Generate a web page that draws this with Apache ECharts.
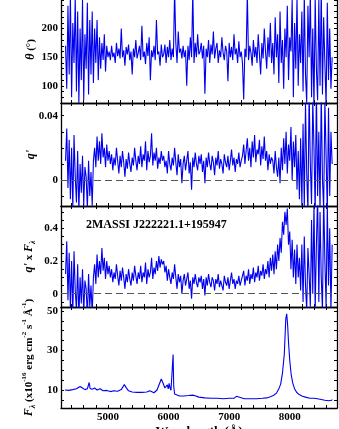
<!DOCTYPE html>
<html>
<head>
<meta charset="utf-8">
<script src="https://cdn.jsdelivr.net/npm/echarts@6/dist/echarts.min.js"></script>
<style>
  html, body { margin: 0; padding: 0; background: #fff; }
  #main { width: 339px; height: 429px; }
</style>
</head>
<body>
<div id="main"></div>
<script>
// sampling of the polarisation panels (Angstrom)
const polStart = 4300
const polStep = 20

// position angle theta (deg)
const theta = [
  170, 95, 240, 120, 260, 80, 210, 140, 255, 90, 230, 70, 200, 110, 250, 75, 190, 130, 245, 85, 215,
  120, 230, 105, 200, 140, 215, 110, 185, 130, 175, 145, 190, 125, 170, 150,
  160, 145, 170, 150, 158, 140, 175, 152, 165, 148, 200, 150, 162, 135, 168, 155, 172, 145, 160, 120, 165, 150, 180, 148, 158,
  170, 145, 205, 150, 160, 138, 175, 152, 185, 110, 162, 150, 170, 145, 215, 155, 160, 135, 172, 150,
  155, 172, 140, 168, 150, 180, 145, 165, 150, 268, 175, 140, 195, 158, 165, 148, 170, 150, 162, 100,
  170, 145, 185, 150, 265, 140, 175, 150, 190, 155,
  160, 175, 148, 170, 86, 165, 150, 180, 140, 172, 155, 195, 148, 165, 175, 140, 162, 150, 185, 158,
  145, 170, 160, 108, 175, 150, 168, 145, 190, 155, 165, 140, 178, 150, 160,
  140, 76, 165, 150, 262, 145, 170, 158, 135, 180, 150, 168, 140, 190, 155, 120, 175, 148, 200, 160, 130, 185, 150, 210, 140,
  175, 120, 220, 150, 190, 105, 230, 140, 180, 95, 200, 150, 240, 110, 185, 160, 250, 80, 210, 130, 255, 100, 190, 140, 230,
  90, 260, 120, 70, 240, 150, 265, 80, 200, 60, 255, 130, 75, 250, 100, 270, 85, 220, 140, 65, 245, 110, 200, 95, 150
]

// q'
const qPol = [
  0.012, 0.032, -0.005, 0.025, -0.012, 0.02, -0.018, 0.028, 0.002, -0.014, 0.018, -0.02, 0.01, -0.008, 0.015, -0.016, 0.008, 0.002, -0.018, 0.012, -0.01,
  0.005, -0.016, 0.012, 0.02, 0.008, 0.027, 0.012, 0.024, 0.01, 0.029, 0.014, 0.02, 0.008, 0.022, 0.012,
  0.018, 0.01, 0.016, 0.006, 0.014, 0.009, 0.02, 0.012, 0.004, 0.015, 0.008, 0.018, 0.011, 0.002, 0.013, 0.007, 0.017, 0.01, 0.005, 0.014, 0.009, 0.02, 0.012, 0.006, 0.015,
  0.01, 0.021, 0.008, 0.016, 0.012, 0.024, 0.006, 0.018, 0.011, 0.015, 0.029, 0.009, 0.017, 0.012, 0.02, 0.007, 0.014, 0.01, 0.018, 0.012,
  0.015, 0.008, 0.012, 0.004, 0.018, 0.01, 0.006, 0.014, 0.009, 0.02, 0.011, 0.003, 0.016, 0.008, 0.013, -0.002, 0.01, 0.015, 0.006, 0.012,
  0.018, 0.004, 0.011, -0.006, 0.014, 0.008, 0.017, 0.01, 0.006, 0.015,
  0.01, 0.016, 0.005, 0.012, -0.002, 0.014, 0.008, 0.017, 0.01, 0.006, 0.015, 0.011, 0.003, 0.014, 0.009, 0.018, 0.007, 0.013, 0.01, 0.004,
  0.016, 0.011, 0.008, 0.015, 0.006, 0.012, 0.019, 0.009, 0.014, 0.005, 0.013, 0.01, 0.017, 0.008, 0.012,
  0.015, 0.022, 0.01, 0.018, 0.026, 0.012, 0.02, 0.008, 0.024, 0.014, 0.028, 0.011, 0.019, 0.016, 0.025, 0.009, 0.021, 0.013, 0.027, 0.012, 0.018, 0.006, 0.016, 0.01, 0.014,
  0.012, 0.004, 0.018, 0.008, 0.002, 0.014, -0.002, 0.02, 0.006, 0.026, 0.01, 0.03, 0.004, 0.022, 0.012, 0.033, 0.0, 0.024, 0.008, 0.028, -0.006, 0.018, -0.012, 0.026, -0.016,
  0.035, -0.018, 0.048, 0.005, -0.02, 0.055, 0.01, -0.015, 0.05, 0.02, -0.02, 0.058, -0.01, 0.03, -0.02, 0.055, 0.0, -0.018, 0.05, 0.015, -0.02, 0.045, -0.01, 0.03, 0.01
]

// q' x F_lambda
const qFlux = [
  0.12, 0.32, -0.04, 0.25, -0.1, 0.2, -0.12, 0.26, 0.02, -0.1, 0.18, -0.15, 0.1, -0.06, 0.15, -0.12, 0.08, 0.03, -0.14, 0.12, -0.08,
  0.05, -0.12, 0.1, 0.18, 0.06, 0.24, 0.1, 0.2, 0.12, 0.28, 0.14, 0.22, 0.09, 0.2, 0.12,
  0.17, 0.1, 0.15, 0.07, 0.13, 0.09, 0.18, 0.11, 0.05, 0.14, 0.08, 0.16, 0.1, 0.03, 0.12, 0.07, 0.15, 0.09, 0.05, 0.13, 0.08, 0.17, 0.11, 0.06, 0.13,
  0.09, 0.17, 0.07, 0.13, 0.1, 0.19, 0.06, 0.15, 0.1, 0.13, 0.22, 0.09, 0.16, 0.12, 0.2, 0.14, 0.23, 0.16, 0.21, 0.18,
  0.2, 0.13, 0.17, 0.08, 0.15, 0.1, 0.06, 0.13, 0.09, 0.18, 0.1, 0.03, 0.12, 0.07, 0.11, 0.0, 0.08, 0.12, 0.05, 0.09,
  0.13, 0.03, 0.08, -0.03, 0.1, 0.06, 0.12, 0.07, 0.04, 0.1,
  0.07, 0.11, 0.03, 0.09, -0.01, 0.1, 0.05, 0.12, 0.07, 0.04, 0.1, 0.08, 0.02, 0.09, 0.06, 0.12, 0.04, 0.08, 0.07, 0.02,
  0.11, 0.07, 0.05, 0.1, 0.03, 0.08, 0.13, 0.06, 0.09, 0.03, 0.08, 0.06, 0.11, 0.05, 0.08,
  0.09, 0.14, 0.05, 0.11, 0.08, 0.15, 0.06, 0.12, 0.09, 0.16, 0.07, 0.13, 0.1, 0.17, 0.08, 0.14, 0.11, 0.18, 0.09, 0.15, 0.12, 0.2, 0.1, 0.22, 0.14,
  0.24, 0.12, 0.26, 0.15, 0.3, 0.2, 0.34, 0.25, 0.44, 0.36, 0.5, 0.42, 0.52, 0.3, 0.38, 0.15, 0.33, 0.1, 0.27, 0.06, 0.3, 0.1, 0.22, 0.02, 0.3,
  -0.05, 0.35, 0.05, -0.1, 0.28, 0.12, -0.08, 0.45, 0.0, 0.55, -0.1, 0.3, 0.6, -0.05, 0.5, 0.1, -0.1, 0.6, 0.2, -0.08, 0.55, 0.05, 0.4, -0.1, 0.3
]

// total flux F_lambda (1e-16 erg cm-2 s-1 A-1)
const fluxWave = [
  4290, 4350, 4420, 4480, 4540, 4580, 4620, 4660, 4690, 4705, 4740, 4780, 4820, 4870, 4920, 4980,
  5040, 5100, 5160, 5220, 5270, 5300, 5340, 5400, 5480, 5560, 5640, 5690, 5720, 5760, 5810, 5850,
  5880, 5910, 5940, 5960, 5980, 5995, 6010, 6025, 6040, 6060, 6075, 6085, 6100, 6130, 6180, 6250,
  6330, 6400, 6450, 6500, 6600, 6700, 6800, 6900, 7000, 7080, 7120, 7150, 7250, 7350, 7450, 7550,
  7620, 7680, 7730, 7780, 7820, 7850, 7880, 7910, 7935, 7950, 7965, 7980, 8000, 8025, 8050, 8080,
  8110, 8150, 8200, 8260, 8330, 8400, 8460, 8520, 8550, 8580, 8610, 8640, 8660, 8690, 8700
]
const fluxVal = [
  10.0, 9.8, 10.2, 10.6, 11.8, 11.0, 10.2, 10.6, 13.8, 10.8, 10.4, 11.0, 10.0, 10.6, 9.6, 9.8,
  9.2, 9.6, 9.4, 10.2, 12.8, 11.2, 9.6, 9.0, 8.8, 8.8, 9.0, 9.6, 8.8, 8.6, 10.0, 13.2,
  15.6, 13.4, 11.0, 10.4, 12.6, 10.6, 13.4, 11.0, 9.8, 10.2, 28.0, 12.0, 8.0, 7.2, 7.0, 7.0,
  7.2, 7.4, 7.0, 6.4, 6.0, 5.8, 5.8, 5.6, 5.8, 5.8, 6.8, 6.0, 5.6, 5.6, 5.6, 5.8,
  6.0, 6.6, 7.2, 8.4, 10.6, 13.0, 18.5, 28.0, 46.0, 48.5, 43.0, 34.0, 25.0, 17.5, 13.5, 10.6,
  9.0, 7.8, 7.0, 6.4, 5.8, 5.8, 5.6, 5.2, 5.8, 4.8, 5.6, 4.6, 5.4, 4.8, 5.2
]

// ticks and labels
const waveTicks = [4400, 4600, 4800, 5000, 5200, 5400, 5600, 5800, 6000, 6200, 6400, 6600, 6800, 7000, 7200, 7400, 7600, 7800, 8000, 8200, 8400, 8600]
const waveLabels = [5000, 6000, 7000, 8000]
const thetaTicks = [80, 90, 100, 110, 120, 130, 140, 150, 160, 170, 180, 190, 200, 210, 220, 230, 240, 250]
const thetaLabels = [100, 150, 200]
const qTicks = [-0.01, 0, 0.01, 0.02, 0.03, 0.04]
const qLabels = [0, 0.04]
const qfTicks = [-0.05, 0, 0.05, 0.1, 0.15, 0.2, 0.25, 0.3, 0.35, 0.4, 0.45, 0.5]
const qfLabels = [0, 0.2, 0.4]
const fluxTicks = [5, 10, 15, 20, 25, 30, 35, 40, 45, 50]
const fluxLabels = [10, 30, 50]

const serif = 'Liberation Serif'
const blue = '#0000ee'

function pol(arr) {
  return arr.map((v, i) => [polStart + i * polStep, v])
}

// panel layout: grid top/height and y ranges
const panels = [
  { top: -4, height: 107, min: 70, max: 257, ticks: thetaTicks, labels: thetaLabels,
    name: '{i|θ} (°)', data: pol(theta), zero: false },
  { top: 103, height: 103, min: -0.0162, max: 0.0479, ticks: qTicks, labels: qLabels,
    name: "{i|q'}", data: pol(qPol), zero: true },
  { top: 206, height: 101, min: -0.081, max: 0.536, ticks: qfTicks, labels: qfLabels,
    name: "{i|q'} x {i|F}{sub|λ}", data: pol(qFlux), zero: true },
  { top: 307, height: 101, min: 0.9, max: 52, ticks: fluxTicks, labels: fluxLabels,
    name: '{i|F}{sub|λ} (x10{sup|-16} erg cm{sup|-2} s{sup|-1} Å{sup|-1})',
    data: fluxWave.map((w, i) => [w, fluxVal[i]]), zero: false }
]

const richName = {
  i: { fontFamily: serif, fontStyle: 'italic', fontWeight: 'bold', fontSize: 12, color: '#000' },
  sub: { fontFamily: serif, fontStyle: 'italic', fontSize: 8, color: '#000', verticalAlign: 'bottom', lineHeight: 16 },
  sup: { fontFamily: serif, fontSize: 7, color: '#000', verticalAlign: 'top', lineHeight: 16 }
}

const grids = [], xAxes = [], yAxes = [], series = []
panels.forEach((p, k) => {
  grids.push({ left: 61, width: 276, top: p.top, height: p.height, outerBoundsMode: 'none', containLabel: false })
  const last = k === panels.length - 1
  ;['bottom', 'top'].forEach(pos => {
    const showLab = last && pos === 'bottom'
    xAxes.push({
      type: 'value', gridIndex: k, position: pos, min: 4225, max: 8780,
      axisLine: { show: true, onZero: false, lineStyle: { color: '#000', width: 1.3 } },
      axisTick: { show: true, inside: true, length: 3, customValues: waveTicks, lineStyle: { color: '#000' } },
      axisLabel: { show: showLab, customValues: waveLabels, margin: 4, formatter: v => String(v),
        fontFamily: serif, fontWeight: 'bold', fontSize: 11, color: '#000' },
      splitLine: { show: false },
      name: showLab ? 'Wavelength (Å)' : '', nameLocation: 'middle', nameGap: 17,
      nameTextStyle: { fontFamily: serif, fontWeight: 'bold', fontSize: 13, color: '#000' }
    })
  })
  ;['left', 'right'].forEach(pos => {
    const left = pos === 'left'
    yAxes.push({
      type: 'value', gridIndex: k, position: pos, min: p.min, max: p.max,
      axisLine: { show: true, onZero: false, lineStyle: { color: '#000', width: 1.3 } },
      axisTick: { show: true, inside: true, length: 3, customValues: p.ticks, lineStyle: { color: '#000' } },
      axisLabel: { show: left, customValues: p.labels, margin: 3, formatter: v => String(v),
        fontFamily: serif, fontWeight: 'bold', fontSize: 11, color: '#000' },
      splitLine: { show: false },
      name: left ? p.name : '', nameLocation: 'middle', nameGap: 24, nameMoveOverlap: false,
      nameTextStyle: { fontFamily: serif, fontWeight: 'bold', fontSize: 11, color: '#000', rich: richName }
    })
  })
  series.push({
    type: 'line', xAxisIndex: k * 2, yAxisIndex: k * 2, data: p.data,
    showSymbol: false, clip: true, lineStyle: { color: blue, width: 1.1 }, itemStyle: { color: blue },
    markLine: p.zero ? {
      silent: true, symbol: 'none', label: { show: false },
      lineStyle: { color: '#555', type: [7, 4], width: 1 },
      data: [{ yAxis: 0 }]
    } : undefined
  })
})

const chart = echarts.init(document.getElementById('main'))
chart.setOption({
  animation: false,
  title: {
    text: '2MASSI J222221.1+195947', left: 81, top: 214,
    textStyle: { fontFamily: serif, fontWeight: 'bold', fontSize: 12, color: '#000' }
  },
  grid: grids,
  xAxis: xAxes,
  yAxis: yAxes,
  series: series
})
</script>
</body>
</html>
